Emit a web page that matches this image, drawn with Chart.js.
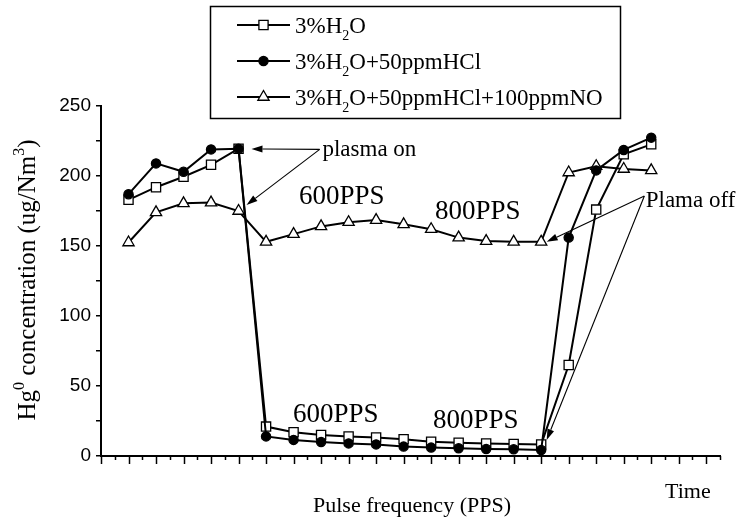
<!DOCTYPE html>
<html>
<head>
<meta charset="utf-8">
<script src="https://cdn.jsdelivr.net/npm/chart.js@4.4.1/dist/chart.umd.min.js"></script>
<style>
  html, body { margin: 0; padding: 0; background: #fff; }
</style>
</head>
<body>
<canvas id="chart" width="741" height="520"></canvas>
<script>
// series names use _x for subscript, ^x for superscript
const seriesNames = ['3%H_2O', '3%H_2O+50ppmHCl', '3%H_2O+50ppmHCl+100ppmNO'];
const steps = [1, 2, 3, 4, 5, 6, 7, 8, 9, 10, 11, 12, 13, 14, 15, 16, 17, 18, 19, 20];
const h2o = [183, 192, 199.5, 208, 219.5, 21, 17, 15, 14, 13.3, 12, 10.2, 9.5, 9, 8.6, 8.3, 65, 176, 215.5, 222.6];
const h2oHcl = [187, 209, 203, 219, 219.5, 14, 11.5, 10, 9, 8.3, 6.7, 6, 5.5, 5, 4.8, 4.3, 156, 204, 218.6, 227.4];
const h2oHclNo = [152.5, 174, 180.5, 181, 175, 153, 158.5, 164, 167, 168.5, 165.5, 162, 156, 153.5, 153, 153, 202.5, 207, 205, 204];
const yTickLabels = [0, 50, 100, 150, 200, 250];

const yTitle = 'Hg^0 concentration (ug/Nm^3)';
const xTitle = 'Pulse frequency (PPS)';
const timeLabel = 'Time';

// notes placed in data units (x step, y value)
const notes = [
  { text: 'plasma on', x: 8.05, y: 214, size: 23 },
  { text: '600PPS', x: 7.2, y: 180, size: 27 },
  { text: '800PPS', x: 12.14, y: 169, size: 27 },
  { text: '600PPS', x: 6.98, y: 24, size: 27 },
  { text: '800PPS', x: 12.07, y: 20, size: 27 },
  { text: 'Plama off', x: 19.8, y: 178, size: 23 }
];
const arrows = [
  { from: [7.95, 219], to: [5.47, 219.3] },
  { from: [7.95, 219], to: [5.29, 179.3] },
  { from: [19.75, 185.7], to: [16.2, 153] },
  { from: [19.75, 185.7], to: [16.2, 11.4] }
];

const SERIF = '"Liberation Serif", "Times New Roman", serif';
const SANS = '"Liberation Sans", Arial, sans-serif';

function parseRich(str) {
  const parts = [];
  let buf = '';
  for (let i = 0; i < str.length; i++) {
    const ch = str[i];
    if ((ch === '_' || ch === '^') && i + 1 < str.length) {
      if (buf) parts.push({ t: buf, k: 0 });
      buf = '';
      parts.push({ t: str[i + 1], k: ch === '_' ? 1 : -1 });
      i++;
    } else {
      buf += ch;
    }
  }
  if (buf) parts.push({ t: buf, k: 0 });
  return parts;
}

function drawRich(ctx, str, x, y, size, align) {
  const parts = parseRich(str);
  const small = Math.round(size * 0.62);
  const widths = parts.map(p => {
    ctx.font = `${p.k ? small : size}px ${SERIF}`;
    return ctx.measureText(p.t).width;
  });
  const total = widths.reduce((a, b) => a + b, 0);
  let cx = align === 'center' ? x - total / 2 : x;
  ctx.textAlign = 'left';
  ctx.textBaseline = 'alphabetic';
  parts.forEach((p, i) => {
    ctx.font = `${p.k ? small : size}px ${SERIF}`;
    const dy = p.k === 1 ? size * 0.3 : (p.k === -1 ? -size * 0.45 : 0);
    ctx.fillText(p.t, cx, y + dy);
    cx += widths[i];
  });
}

function arrowLine(ctx, x1, y1, x2, y2) {
  const ang = Math.atan2(y2 - y1, x2 - x1);
  const len = 11, half = 3.5;
  const bx = x2 - Math.cos(ang) * len, by = y2 - Math.sin(ang) * len;
  ctx.beginPath();
  ctx.moveTo(x1, y1);
  ctx.lineTo(bx, by);
  ctx.stroke();
  ctx.beginPath();
  ctx.moveTo(x2, y2);
  ctx.lineTo(bx - Math.sin(ang) * half, by + Math.cos(ang) * half);
  ctx.lineTo(bx + Math.sin(ang) * half, by - Math.cos(ang) * half);
  ctx.closePath();
  ctx.fill();
}

function series(label, values, style, radius, fill, order) {
  return {
    label,
    data: steps.map((s, i) => ({ x: s, y: values[i] })),
    borderColor: '#000',
    borderWidth: 2,
    backgroundColor: fill,
    pointStyle: style,
    pointRadius: radius,
    pointBorderWidth: 1.3,
    pointBackgroundColor: fill,
    pointBorderColor: '#000',
    tension: 0,
    order
  };
}

const extras = {
  id: 'extras',
  afterDraw(chart) {
    const { ctx, chartArea } = chart;
    const xs = chart.scales.x, ys = chart.scales.y;
    ctx.save();
    ctx.fillStyle = '#000';
    ctx.strokeStyle = '#000';

    // x ticks, long at whole steps, short between
    ctx.lineWidth = 1.5;
    for (let v = 0; v <= xs.max + 1e-6; v += 0.5) {
      const px = Math.round(xs.getPixelForValue(v)) + 0.5;
      const len = Number.isInteger(v) ? 8 : 4;
      ctx.beginPath();
      ctx.moveTo(px, chartArea.bottom);
      ctx.lineTo(px, chartArea.bottom + len);
      ctx.stroke();
    }

    // axis titles
    ctx.save();
    ctx.translate(35, (chartArea.top + chartArea.bottom) / 2 - 1);
    ctx.rotate(-Math.PI / 2);
    drawRich(ctx, yTitle, 0, 0, 25, 'center');
    ctx.restore();
    drawRich(ctx, xTitle, 412, 512, 22, 'center');
    drawRich(ctx, timeLabel, 665, 498, 22, 'left');

    // notes and arrows
    notes.forEach(n => {
      drawRich(ctx, n.text, xs.getPixelForValue(n.x), ys.getPixelForValue(n.y), n.size, 'left');
    });
    ctx.lineWidth = 1.1;
    arrows.forEach(a => {
      arrowLine(ctx,
        xs.getPixelForValue(a.from[0]), ys.getPixelForValue(a.from[1]),
        xs.getPixelForValue(a.to[0]), ys.getPixelForValue(a.to[1]));
    });

    // legend box
    ctx.lineWidth = 1.5;
    ctx.strokeRect(210.5, 6.5, 410, 112);
    const rows = [25, 61, 97];
    chart.data.datasets.forEach((ds, i) => {
      const ry = rows[i];
      ctx.lineWidth = 2;
      ctx.strokeStyle = '#000';
      ctx.beginPath();
      ctx.moveTo(237, ry);
      ctx.lineTo(290, ry);
      ctx.stroke();
      ctx.fillStyle = ds.pointBackgroundColor;
      ctx.lineWidth = ds.pointBorderWidth;
      Chart.helpers.drawPoint(ctx, {
        pointStyle: ds.pointStyle, radius: ds.pointRadius,
        borderWidth: ds.pointBorderWidth, rotation: 0
      }, 263.5, ry);
      ctx.fillStyle = '#000';
      drawRich(ctx, ds.label, 295, ry + 8, 23, 'left');
    });
    ctx.restore();
  }
};

new Chart(document.getElementById('chart'), {
  type: 'line',
  data: {
    datasets: [
      series(seriesNames[0], h2o, 'rect', 6.5, '#fff', 1),
      series(seriesNames[1], h2oHcl, 'circle', 4.6, '#000', 0),
      series(seriesNames[2], h2oHclNo, 'triangle', 6.5, '#fff', 2)
    ]
  },
  options: {
    responsive: false,
    animation: false,
    events: [],
    layout: { padding: { left: 0, top: 106, right: 21, bottom: 64 } },
    plugins: { legend: { display: false }, tooltip: { enabled: false } },
    scales: {
      x: {
        type: 'linear', min: 0, max: 22.5,
        ticks: { display: false },
        grid: { display: false },
        border: { display: true, color: '#000', width: 2 },
        afterFit(s) { s.height = 0; }
      },
      y: {
        min: 0, max: 250,
        ticks: {
          stepSize: 25, padding: 5, color: '#000',
          font: { family: SANS, size: 19 },
          callback: v => (yTickLabels.includes(v) ? String(v) : '')
        },
        grid: { drawOnChartArea: false, drawTicks: true, tickLength: 5, color: '#000', lineWidth: 1.5 },
        border: { color: '#000', width: 2 },
        afterFit(s) { s.width = 101; }
      }
    }
  },
  plugins: [extras]
});
</script>
</body>
</html>
